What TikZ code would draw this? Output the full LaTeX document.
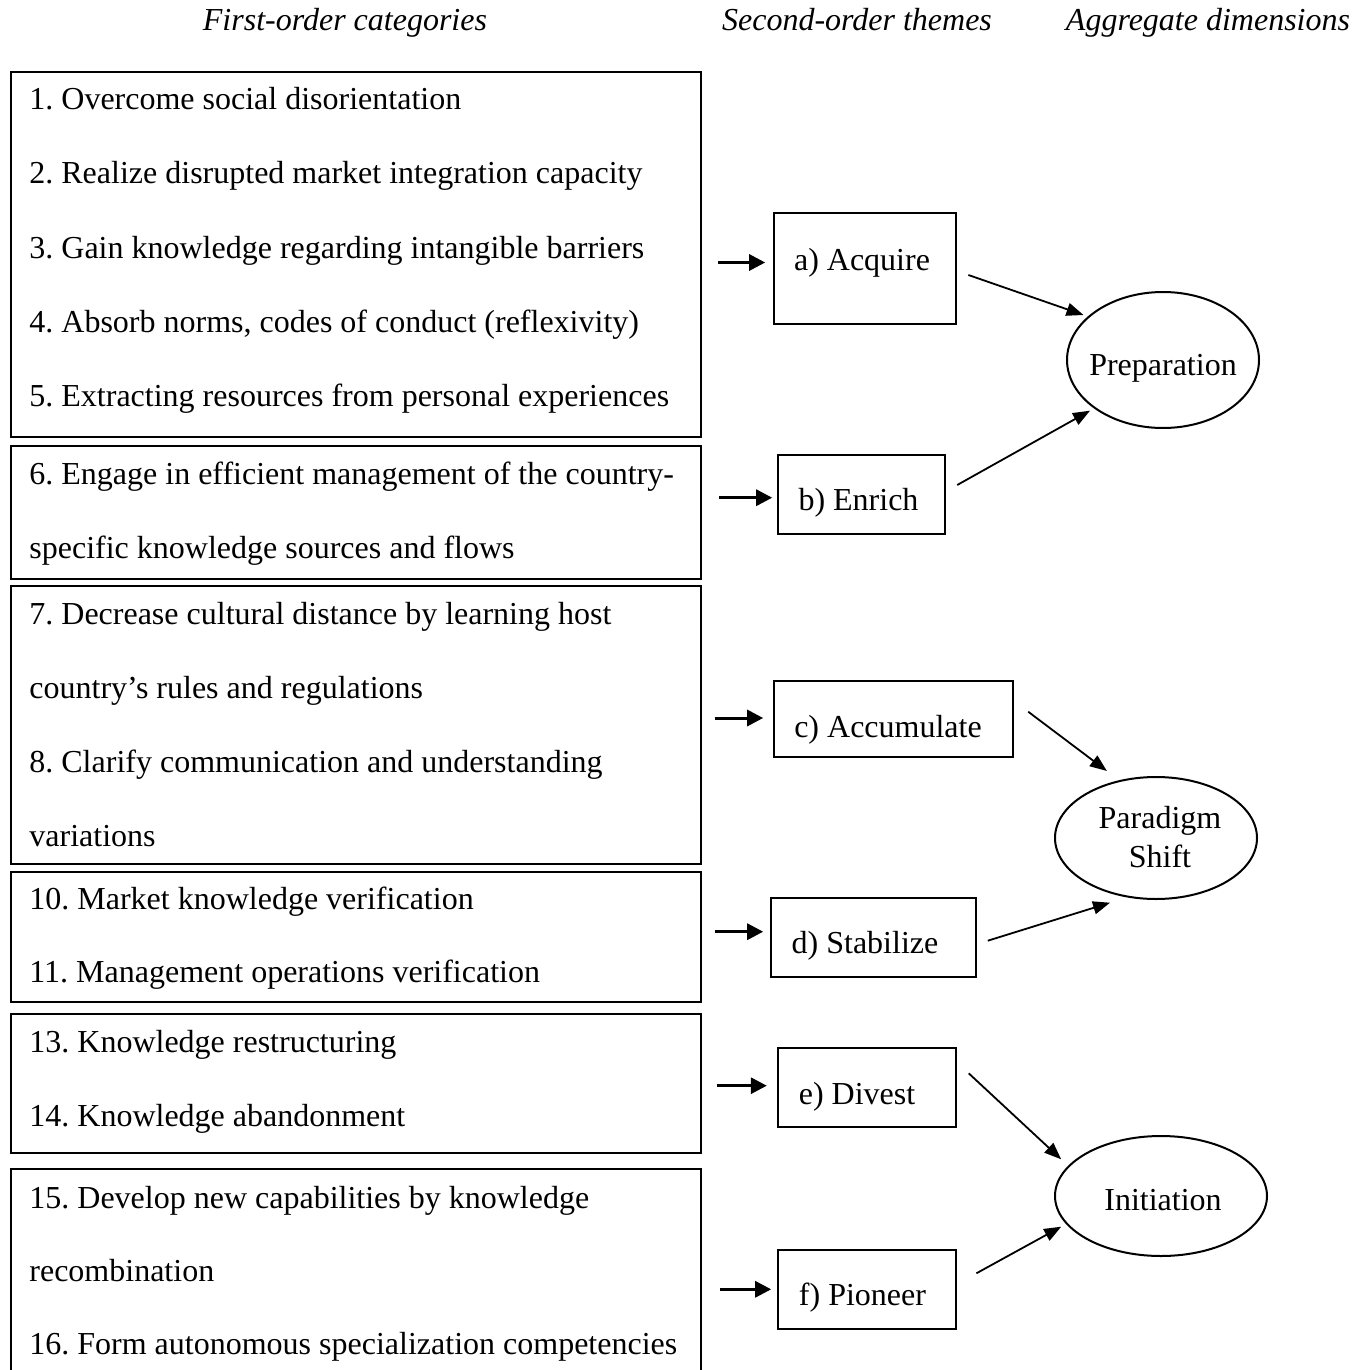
\documentclass[tikz,border=0pt]{standalone}
\usepackage{fontspec}
\setmainfont{Liberation Serif}
\usetikzlibrary{arrows.meta,shapes.geometric}
\frenchspacing
\begin{document}
\begin{tikzpicture}[x=0.5pt,y=-0.5pt,
  font=\fontsize{16}{19}\selectfont,
  lbox/.style={draw, line width=1pt, anchor=north west, minimum width=345pt, inner sep=0pt},
  tbox/.style={draw, line width=0.8pt, inner sep=0pt},
  dimell/.style={draw, ellipse, line width=1pt, inner sep=0pt},
  ltxt/.style={anchor=base west, inner sep=0pt},
  ctxt/.style={anchor=base, inner sep=0pt},
  hdr/.style={anchor=base, inner sep=0pt, font=\fontsize{16}{19}\selectfont\itshape},
  inarr/.style={line width=1.5pt, -{Triangle[length=8pt,width=8pt]}},
  darr/.style={line width=0.9pt, -{Triangle[length=8.5pt,width=6.5pt]}}]

\useasboundingbox (0,0) rectangle (1371,1370);

% headers
\node[hdr] (h1) at (345,31) {First-order categories};
\node[hdr] (h2) at (857,31) {Second-order themes};
\node[hdr] (h3) at (1208,31) {Aggregate dimensions};

% left boxes
\node[lbox, minimum height=182.5pt] (L1) at (10,71) {};
\node[lbox, minimum height=66.75pt] (L2) at (10,444.5) {};
\node[lbox, minimum height=139pt] (L3) at (10,585) {};
\node[lbox, minimum height=65pt] (L4) at (10,870.5) {};
\node[lbox, minimum height=69.5pt] (L5) at (10,1013) {};
\node[lbox, minimum height=102.5pt] (L6) at (10,1168) {};

% left texts
\node[ltxt] (t1) at (29,110) {1. Overcome social disorientation};
\node[ltxt] (t2) at (29,184) {2. Realize disrupted market integration capacity};
\node[ltxt] (t3) at (29,258) {3. Gain knowledge regarding intangible barriers};
\node[ltxt] (t4) at (29,332) {4. Absorb norms, codes of conduct (reflexivity)};
\node[ltxt] (t5) at (29,406) {5. Extracting resources from personal experiences};
\node[ltxt] (t6) at (29,484) {6. Engage in efficient management of the country-};
\node[ltxt] (t6b) at (29,558) {specific knowledge sources and flows};
\node[ltxt] (t7) at (29,624) {7. Decrease cultural distance by learning host};
\node[ltxt] (t7b) at (29,698) {country’s rules and regulations};
\node[ltxt] (t8) at (29,772) {8. Clarify communication and understanding};
\node[ltxt] (t8b) at (29,846) {variations};
\node[ltxt] (t10) at (29,909) {10. Market knowledge verification};
\node[ltxt] (t11) at (29,982) {11. Management operations verification};
\node[ltxt] (t13) at (29,1052) {13. Knowledge restructuring};
\node[ltxt] (t14) at (29,1126) {14. Knowledge abandonment};
\node[ltxt] (t15) at (29,1208) {15. Develop new capabilities by knowledge};
\node[ltxt] (t15b) at (29,1281) {recombination};
\node[ltxt] (t16) at (29,1354) {16. Form autonomous specialization competencies};

% theme boxes
\node[tbox, minimum width=91pt, minimum height=55.5pt] (bA) at (865,268.5) {};
\node[tbox, minimum width=83.5pt, minimum height=39.5pt] (bB) at (861.5,494.5) {};
\node[tbox, minimum width=119.5pt, minimum height=38pt] (bC) at (893.5,719) {};
\node[tbox, minimum width=102.5pt, minimum height=39.5pt] (bD) at (873.5,937.5) {};
\node[tbox, minimum width=89pt, minimum height=39.5pt] (bE) at (867,1087.5) {};
\node[tbox, minimum width=89pt, minimum height=39.5pt] (bF) at (867,1289.5) {};

\node[ctxt] (tA) at (862,270) {a) Acquire};
\node[ctxt] (tB) at (858.5,510) {b) Enrich};
\node[ctxt] (tC) at (888,737) {c) Accumulate};
\node[ctxt] (tD) at (865,953) {d) Stabilize};
\node[ctxt] (tE) at (857,1104) {e) Divest};
\node[ctxt] (tF) at (862.5,1305) {f) Pioneer};

% aggregate dimensions
\node[dimell, minimum width=96pt, minimum height=68pt] (prep) at (1163,360) {};
\node[dimell, minimum width=101pt, minimum height=61pt] (par) at (1156,838) {};
\node[dimell, minimum width=106pt, minimum height=60pt] (init) at (1161,1196) {};

\node[ctxt] (tprep) at (1163,375) {Preparation};
\node[ctxt] (tpar1) at (1160,828) {Paradigm};
\node[ctxt] (tpar2) at (1160,867) {Shift};
\node[ctxt] (tinit) at (1163,1210) {Initiation};

% input arrows
\coordinate (inA) at (718,262.5);
\coordinate (inB) at (719,497.7);
\coordinate (inC) at (714.5,718);
\coordinate (inD) at (714.5,931.7);
\coordinate (inE) at (716.5,1085.7);
\coordinate (inF) at (720,1289.3);
\draw[inarr, shorten >=4pt] (inA) -- (inA -| bA.west);
\draw[inarr, shorten >=2.5pt] (inB) -- (inB -| bB.west);
\draw[inarr, shorten >=5pt] (inC) -- (inC -| bC.west);
\draw[inarr, shorten >=3.5pt] (inD) -- (inD -| bD.west);
\draw[inarr, shorten >=5.2pt] (inE) -- (inE -| bE.west);
\draw[inarr, shorten >=3pt] (inF) -- (inF -| bF.west);

% theme to dimension arrows
\draw[darr] ([shift={(11.6,6.5)}]bA.east) -- ([shift={(-79.5,-45)}]prep.center);
\draw[darr] ([shift={(11.4,-9.5)}]bB.east) -- ([shift={(-73,50.7)}]prep.center);
\draw[darr] ([shift={(14.4,-7.3)}]bC.east) -- ([shift={(-49.1,-67)}]par.center);
\draw[darr] ([shift={(11,3.2)}]bD.east) -- ([shift={(-46,64.7)}]par.center);
\draw[darr] ([shift={(11.9,-14.2)}]bE.east) -- ([shift={(-99.8,-36.7)}]init.center);
\draw[darr] ([shift={(19.6,-16.2)}]bF.east) -- ([shift={(-99.8,30.7)}]init.center);
\end{tikzpicture}
\end{document}
